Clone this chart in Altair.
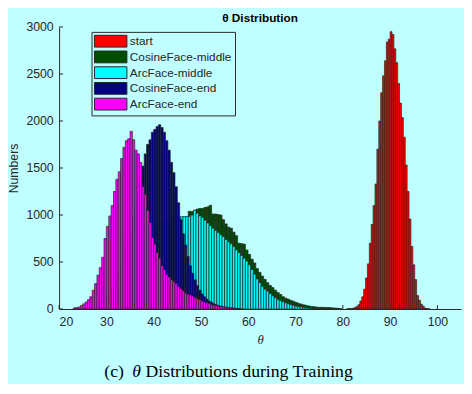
import altair as alt
import pandas as pd

# ---------------- data ----------------
series_names = ["start", "CosineFace-middle", "ArcFace-middle", "CosineFace-end", "ArcFace-end"]
series_colors = ["#ff0000", "#004d00", "#00ffff", "#000080", "#ff00ff"]

# each histogram: first bin edge (deg), bin width (deg), counts per bin
start_first, start_width = 80.8, 0.4
start_counts = [3, 5, 5, 8, 15, 28, 46, 85, 130, 210, 330, 480, 700, 900, 1100, 1330,
                1700, 2000, 2300, 2480, 2640, 2840, 2870, 2950, 2920, 2767, 2620, 2398,
                2190, 2036, 1827, 1532, 1250, 957, 665, 470, 313, 143, 94, 52, 31, 10, 5, 3]

cos_mid_first, cos_mid_width = 24.75, 0.55
cos_mid_counts = [3, 5, 8, 12, 18, 25, 35, 45, 60, 75, 95, 120, 150, 180, 220, 260, 300,
                  350, 400, 450, 500, 550, 600, 650, 700, 740, 780, 820, 850, 880, 900,
                  920, 935, 945, 955, 960, 965, 970, 975, 978, 980, 1040, 1035, 1050,
                  1062, 1070, 1068, 1080, 1086, 1103, 1010, 1010, 1005, 1000, 950, 905,
                  871, 860, 818, 780, 700, 696, 690, 627, 580, 530, 490, 430, 390, 350,
                  315, 280, 250, 228, 200, 175, 155, 130, 115, 105, 92, 82, 70, 60, 52,
                  44, 38, 32, 27, 24, 20, 18, 18, 17, 16, 15, 12, 10, 8, 5]

arc_mid_first, arc_mid_width = 24.75, 0.55
arc_mid_counts = [5, 10, 15, 25, 35, 50, 70, 90, 115, 145, 180, 220, 260, 300, 350, 400,
                  450, 500, 550, 600, 640, 680, 720, 760, 790, 820, 850, 870, 890, 910,
                  925, 940, 950, 960, 965, 970, 975, 980, 982, 982, 985, 985, 1000, 1050,
                  1020, 990, 975, 945, 915, 885, 860, 835, 815, 790, 770, 740, 715, 695,
                  665, 630, 600, 570, 540, 510, 470, 420, 370, 320, 280, 240, 210, 190,
                  165, 140, 120, 100, 88, 78, 65, 55, 46, 38, 30, 26, 22, 17, 13, 10, 7, 5]

cos_end_first, cos_end_width = 25.0, 0.5
cos_end_counts = [5, 8, 10, 15, 20, 30, 40, 55, 70, 95, 120, 160, 200, 250, 300, 370, 450,
                  540, 650, 750, 850, 970, 1100, 1250, 1400, 1520, 1650, 1750, 1800, 1880,
                  1910, 1940, 1960, 1930, 1880, 1790, 1690, 1560, 1450, 1300, 1130, 950,
                  800, 680, 560, 460, 380, 310, 250, 200, 160, 130, 105, 85, 70, 55, 45,
                  36, 30, 24, 20, 15, 12, 9, 7, 5, 4]

arc_end_first, arc_end_width = 23.0, 0.5
arc_end_counts = [12, 15, 20, 38, 55, 75, 100, 130, 200, 270, 360, 440, 550, 750, 880,
                  990, 1100, 1250, 1380, 1460, 1600, 1720, 1790, 1810, 1890, 1800, 1690,
                  1650, 1560, 1300, 1220, 1050, 920, 760, 690, 600, 540, 460, 420, 370,
                  340, 310, 290, 270, 240, 215, 195, 170, 157, 150, 138, 122, 108, 98, 87,
                  75, 68, 60, 48, 40, 35, 30, 26, 22, 18, 14, 12, 9, 7, 5]

x_ticks = [20, 30, 40, 50, 60, 70, 80, 90, 100]
y_ticks = [0, 500, 1000, 1500, 2000, 2500, 3000]

chart_title = "θ Distribution"
x_title = "θ"
y_title = "Numbers"
caption_parts = ["(c)", "θ", "Distributions during Training"]

# ---------------- build table ----------------
hists = [
    (series_names[0], start_first, start_width, start_counts),
    (series_names[1], cos_mid_first, cos_mid_width, cos_mid_counts),
    (series_names[2], arc_mid_first, arc_mid_width, arc_mid_counts),
    (series_names[3], cos_end_first, cos_end_width, cos_end_counts),
    (series_names[4], arc_end_first, arc_end_width, arc_end_counts),
]
rows = []
for name, first, width, counts in hists:
    for i, c in enumerate(counts):
        rows.append({"series": name,
                     "x0": round(first + i * width, 4),
                     "x1": round(first + (i + 1) * width, 4),
                     "count": c})
hist = pd.DataFrame(rows)

W, H = 409, 287
BG = "#c0ffff"
INK = "#262626"

xscale = alt.Scale(domain=[20, 105], nice=False, zero=False)
yscale = alt.Scale(domain=[0, 3000], nice=False)

x_axis = alt.Axis(values=x_ticks, format="d", title=x_title, titleFont="Liberation Serif",
                  titleFontStyle="italic", titleFontSize=13, titleFontWeight="normal",
                  titleColor=INK, titlePadding=6, labelPadding=7)
y_axis = alt.Axis(values=y_ticks, format="d", title=y_title, titleFont="Liberation Sans",
                  titleFontSize=12.5, titleFontWeight="normal", titleColor=INK,
                  titlePadding=6, labelPadding=6)

legend = alt.Legend(
    orient="none", legendX=33, legendY=5, title=None,
    symbolType="M-2.75,-1L2.75,-1L2.75,1L-2.75,1Z", symbolSize=144,
    symbolStrokeColor=INK, symbolStrokeWidth=1, symbolOpacity=1,
    symbolOffset=10, labelOffset=13, rowPadding=-1,
    strokeColor=INK, padding=3, fillColor=BG,
    labelFont="Liberation Sans", labelFontSize=12, labelColor=INK,
)

bars = alt.Chart(hist).mark_bar(stroke=INK, strokeWidth=0.7, opacity=1).encode(
    x=alt.X("x0:Q", scale=xscale, axis=x_axis),
    x2="x1:Q",
    y=alt.Y("count:Q", stack=None, scale=yscale, axis=y_axis),
    y2=alt.datum(0),
    color=alt.Color("series:N", scale=alt.Scale(domain=series_names, range=series_colors),
                    legend=legend),
)

xt = alt.Chart(pd.DataFrame({"x0": x_ticks})).mark_rule(color=INK, strokeWidth=1).encode(
    x=alt.X("x0:Q", scale=xscale, axis=x_axis), y=alt.value(H), y2=alt.value(H - 4))
yt = alt.Chart(pd.DataFrame({"count": y_ticks})).mark_rule(color=INK, strokeWidth=1).encode(
    y=alt.Y("count:Q", scale=yscale, axis=y_axis), x=alt.value(0), x2=alt.value(4))

title_txt = alt.Chart(pd.DataFrame({"t": [chart_title]})).mark_text(
    font="Liberation Sans", fontSize=12, fontWeight="bold", align="center",
    baseline="alphabetic", color="black"
).encode(x=alt.value(W / 2), y=alt.value(-5), text="t:N")

cap_y = 356
cap1 = alt.Chart(pd.DataFrame({"t": [caption_parts[0]]})).mark_text(
    font="Liberation Serif", fontSize=18, align="left", baseline="alphabetic", color="black"
).encode(x=alt.value(46), y=alt.value(cap_y), text="t:N")
cap2 = alt.Chart(pd.DataFrame({"t": [caption_parts[1]]})).mark_text(
    font="Liberation Serif", fontSize=18, fontStyle="italic", align="left",
    baseline="alphabetic", color="black"
).encode(x=alt.value(74.5), y=alt.value(cap_y), text="t:N")
cap3 = alt.Chart(pd.DataFrame({"t": [caption_parts[2]]})).mark_text(
    font="Liberation Serif", fontSize=18, align="left", baseline="alphabetic", color="black"
).encode(x=alt.value(88), y=alt.value(cap_y), text="t:N")

chart = alt.layer(xt, yt, bars, title_txt, cap1, cap2, cap3).properties(
    width=W, height=H,
    padding={"left": 52, "top": 16, "right": 3, "bottom": 73},
    autosize=alt.AutoSizeParams(type="none"),
).configure(background=BG).configure_view(stroke=None).configure_axis(
    labelFont="Liberation Sans", labelFontSize=12.5, labelColor=INK,
    domainColor=INK, domainWidth=1, tickSize=0, grid=False,
).configure_legend(strokeWidth=1)

chart.save("out.html", embed_options={"renderer": "svg", "actions": False})
